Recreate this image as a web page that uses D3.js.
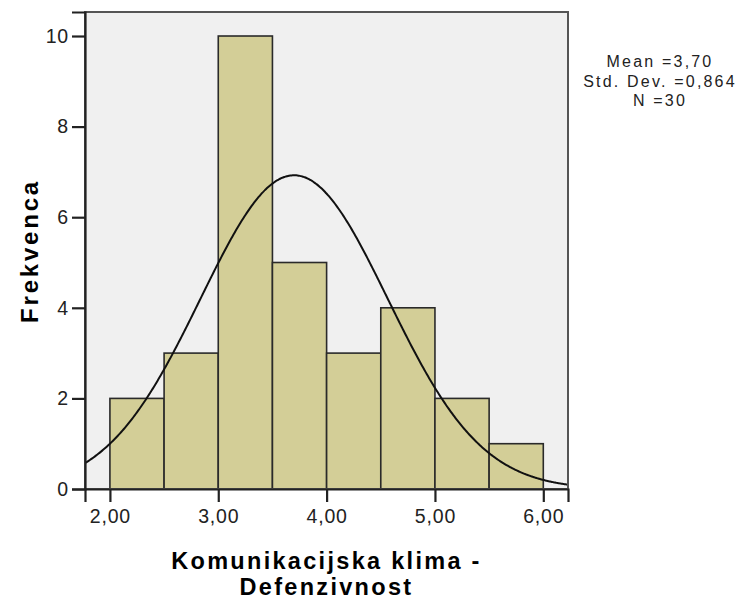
<!DOCTYPE html>
<html>
<head>
<meta charset="utf-8">
<script src="https://cdn.jsdelivr.net/npm/d3@7"></script>
<style>
  html, body { margin: 0; padding: 0; background: #ffffff; }
  svg { display: block; }
</style>
</head>
<body>
<svg id="chart" width="742" height="609"></svg>
<script>
// ---- data ----
const binStarts = [2.0, 2.5, 3.0, 3.5, 4.0, 4.5, 5.0, 5.5];
const binWidth = 0.5;
const counts = [2, 3, 10, 5, 3, 4, 2, 1];
const xTicks = [2, 3, 4, 5, 6];
const yTicks = [0, 2, 4, 6, 8, 10];
const statLabels = ["Mean =3,70", "Std. Dev. =0,864", "N =30"];
const statMean = 3.70;
const statSd = 0.864;
const statN = 30;
const xTitleLines = ["Komunikacijska klima -", "Defenzivnost"];
const yTitle = "Frekvenca";

// ---- layout ----
const svg = d3.select("#chart");
const plot = { left: 85, right: 568, top: 12, bottom: 489 };

const x = d3.scaleLinear().domain([1.77, 6.228]).range([plot.left, plot.right]);
const y = d3.scaleLinear().domain([0, 10.53]).range([plot.bottom, plot.top]);

const fmt = v => d3.format(".2f")(v).replace(".", ",");

// plot background
svg.append("rect")
  .attr("x", plot.left).attr("y", plot.top)
  .attr("width", plot.right - plot.left).attr("height", plot.bottom - plot.top)
  .attr("fill", "#f0f0f0");

svg.append("clipPath").attr("id", "clip")
  .append("rect")
  .attr("x", plot.left).attr("y", plot.top)
  .attr("width", plot.right - plot.left).attr("height", plot.bottom - plot.top);

// bars
svg.append("g").selectAll("rect")
  .data(binStarts.map((s, i) => ({ s, c: counts[i] })))
  .join("rect")
  .attr("x", d => x(d.s))
  .attr("y", d => y(d.c))
  .attr("width", d => x(d.s + binWidth) - x(d.s))
  .attr("height", d => y(0) - y(d.c))
  .attr("fill", "#d3ce97")
  .attr("stroke", "#2a2a2a")
  .attr("stroke-width", 1.6);

// normal curve from stated mean / sd / N
const scaleK = statN * binWidth;
const pdf = v => scaleK * Math.exp(-0.5 * Math.pow((v - statMean) / statSd, 2)) / (statSd * Math.sqrt(2 * Math.PI));
const curvePts = d3.range(0, 401).map(i => {
  const v = x.domain()[0] + (x.domain()[1] - x.domain()[0]) * i / 400;
  return [v, pdf(v)];
});
svg.append("path")
  .attr("clip-path", "url(#clip)")
  .attr("d", d3.line().x(d => x(d[0])).y(d => y(d[1])).curve(d3.curveBasis)(curvePts))
  .attr("fill", "none")
  .attr("stroke", "#111")
  .attr("stroke-width", 2);

// frame
svg.append("rect")
  .attr("x", plot.left).attr("y", plot.top)
  .attr("width", plot.right - plot.left).attr("height", plot.bottom - plot.top)
  .attr("fill", "none")
  .attr("stroke", "#555")
  .attr("stroke-width", 2);

// axes
const xAxis = d3.axisBottom(x).tickValues(xTicks).tickFormat(fmt).tickSize(13).tickPadding(7);
const gx = svg.append("g").attr("transform", `translate(0,${plot.bottom})`).call(xAxis);
gx.select(".domain").attr("stroke", "#222").attr("stroke-width", 2.2);
gx.selectAll(".tick line").attr("stroke", "#222").attr("stroke-width", 2.2);
gx.selectAll(".tick text")
  .attr("fill", "#222")
  .style("font-family", "'Liberation Sans', Arial, sans-serif")
  .style("font-size", "19.5px")
  .style("letter-spacing", "0.8px");

const yAxis = d3.axisLeft(y).tickValues(yTicks).tickFormat(d3.format("d")).tickSize(13).tickPadding(3);
const gy = svg.append("g").attr("transform", `translate(${plot.left},0)`).call(yAxis);
gy.select(".domain").attr("stroke", "#222").attr("stroke-width", 2.2);
gy.selectAll(".tick line").attr("stroke", "#222").attr("stroke-width", 2.2);
gy.selectAll(".tick text")
  .attr("fill", "#222")
  .style("font-family", "'Liberation Sans', Arial, sans-serif")
  .style("font-size", "19.5px")
  .style("letter-spacing", "0.8px");

// axis titles
svg.append("text")
  .attr("transform", "translate(38,251) rotate(-90)")
  .attr("text-anchor", "middle")
  .style("font-family", "'Liberation Sans', Arial, sans-serif")
  .style("font-weight", "bold")
  .style("font-size", "24px")
  .style("letter-spacing", "2.8px")
  .attr("fill", "#000")
  .text(yTitle);

svg.append("g").selectAll("text")
  .data(xTitleLines)
  .join("text")
  .attr("x", (plot.left + plot.right) / 2)
  .attr("y", (d, i) => 569 + i * 26)
  .attr("text-anchor", "middle")
  .style("font-family", "'Liberation Sans', Arial, sans-serif")
  .style("font-weight", "bold")
  .style("font-size", "23.5px")
  .style("letter-spacing", "2.3px")
  .attr("fill", "#000")
  .text(d => d);

// stats
svg.append("g").selectAll("text")
  .data(statLabels)
  .join("text")
  .attr("x", 660)
  .attr("y", (d, i) => 67 + i * 19.5)
  .attr("text-anchor", "middle")
  .style("font-family", "'Liberation Sans', Arial, sans-serif")
  .style("font-size", "16px")
  .style("letter-spacing", "2.2px")
  .attr("fill", "#222")
  .text(d => d);
</script>
</body>
</html>
